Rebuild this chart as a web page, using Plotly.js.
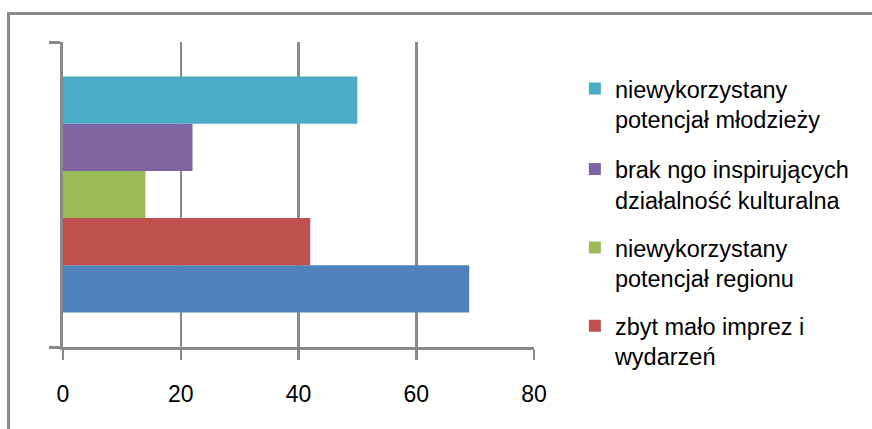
<!DOCTYPE html>
<html>
<head>
<meta charset="utf-8">
<script src="https://cdn.plot.ly/plotly-3.0.1.min.js"></script>
<style>
  html, body { margin: 0; padding: 0; background: #ffffff; overflow: hidden; }
  #wrap { position: relative; width: 872px; height: 429px; overflow: hidden; }
  #chart { position: absolute; left: 0; top: 0; width: 872px; height: 429px; }
  #frame { position: absolute; left: 7px; top: 12px; width: 900px; height: 500px;
           border-top: 3px solid #8a8a8a; border-left: 3px solid #8a8a8a; pointer-events: none; }
</style>
</head>
<body>
<div id="wrap">
  <div id="chart"></div>
  <div id="frame"></div>
</div>
<script>
// ---- data ----
const categories = ['1'];
const seriesNames = [
  '',
  'zbyt mało imprez i<br>wydarzeń',
  'niewykorzystany<br>potencjał regionu',
  'brak ngo inspirujących<br>działalność kulturalna',
  'niewykorzystany<br>potencjał młodzieży'
];
const seriesValues = [69, 42, 14, 22, 50];
const seriesColors = ['#4F81BD', '#C0504D', '#9BBB59', '#8064A2', '#4BACC6'];
const showInLegend = [false, true, true, true, true];
const legendIds = ['legend', 'legend4', 'legend3', 'legend2', 'legend'];
const xTicks = [0, 20, 40, 60, 80];

const gray = '#898989';
const font = 'Liberation Sans, Arial, sans-serif';

const traces = seriesNames.map((name, i) => ({
  type: 'bar',
  orientation: 'h',
  y: categories,
  x: [seriesValues[i]],
  name: name,
  legend: legendIds[i],
  showlegend: showInLegend[i],
  marker: { color: seriesColors[i], line: { width: 0 } },
  hoverinfo: 'x'
}));

function legendAt(y) {
  return {
    x: 1.0868,
    xanchor: 'left',
    y: y,
    yanchor: 'top',
    valign: 'top',
    bgcolor: 'rgba(0,0,0,0)',
    borderwidth: 0,
    font: { family: font, size: 23.5, color: '#000000' }
  };
}

const layout = {
  width: 872,
  height: 429,
  margin: { l: 63, r: 338, t: 42, b: 82, pad: 0 },
  paper_bgcolor: 'rgba(0,0,0,0)',
  plot_bgcolor: 'rgba(0,0,0,0)',
  barmode: 'group',
  bargap: 0.227,
  bargroupgap: 0,
  font: { family: font, size: 22, color: '#000000' },
  xaxis: {
    range: [0, 80],
    tickvals: xTicks,
    ticktext: xTicks.map(String),
    showgrid: true,
    gridcolor: gray,
    gridwidth: 2.5,
    zeroline: false,
    showline: true,
    linecolor: gray,
    linewidth: 3,
    ticks: 'outside',
    ticklen: 10,
    tickwidth: 2.5,
    tickcolor: gray,
    ticklabelstandoff: 14,
    tickfont: { family: font, size: 23, color: '#000000' },
    fixedrange: true
  },
  yaxis: {
    type: 'category',
    range: [-0.5, 0.5],
    showticklabels: false,
    showgrid: false,
    zeroline: false,
    showline: true,
    linecolor: gray,
    linewidth: 3,
    ticks: 'outside',
    tickson: 'boundaries',
    ticklen: 11,
    tickwidth: 3,
    tickcolor: gray,
    fixedrange: true
  },
  showlegend: true,
  legend: legendAt(0.919),
  legend2: legendAt(0.655),
  legend3: legendAt(0.398),
  legend4: legendAt(0.141)
};

Plotly.newPlot('chart', traces, layout, { displayModeBar: false, staticPlot: true });
</script>
</body>
</html>
